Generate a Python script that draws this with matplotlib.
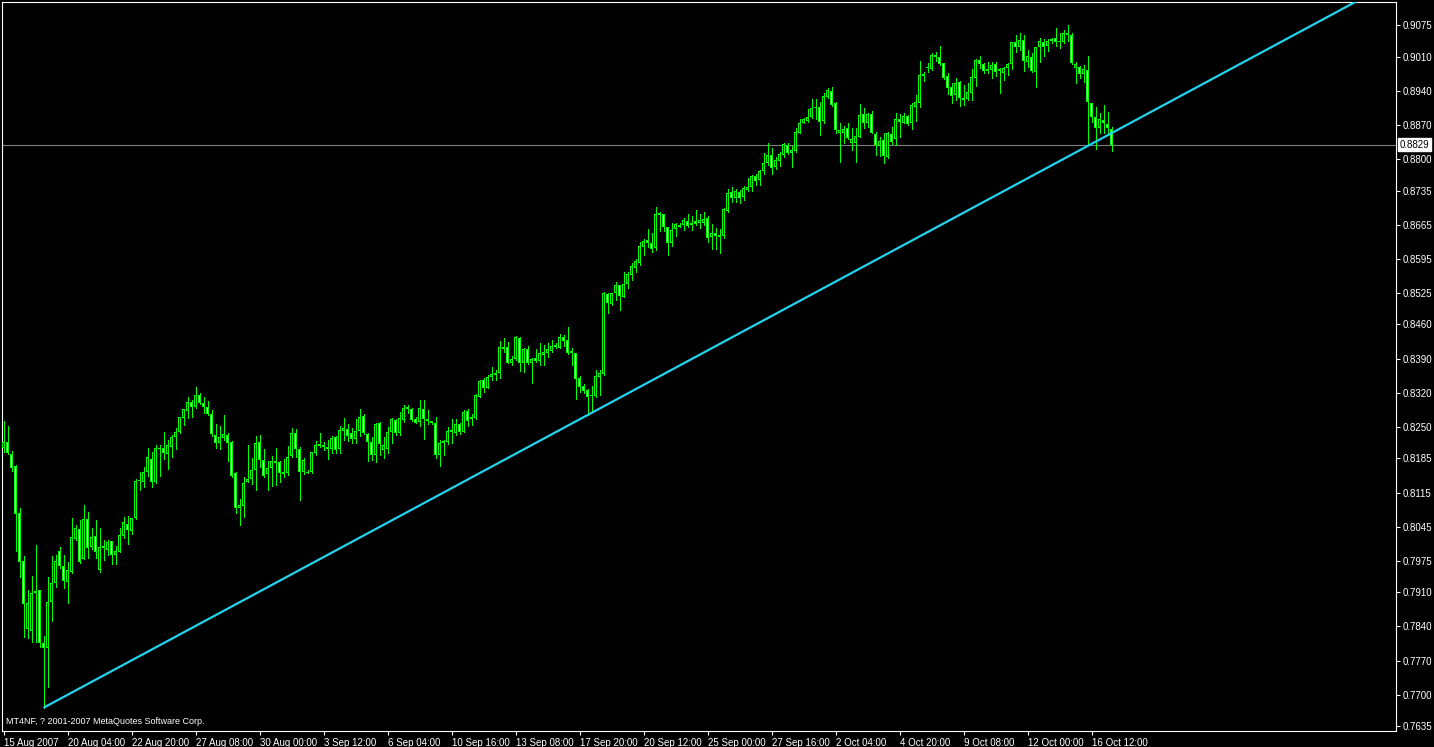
import numpy as np
import matplotlib
matplotlib.use("Agg")
import matplotlib.pyplot as plt

# H4 candles, 15 Aug 2007 - 16 Oct 2007
opens = [
    0.8206, 0.8219, 0.8194, 0.8170, 0.8073, 0.7974, 0.7835, 0.7831, 0.7909, 0.7915,
    0.7806, 0.7796, 0.7890, 0.7929, 0.7995, 0.7964, 0.7931, 0.7952, 0.8020, 0.8040,
    0.7979, 0.8061, 0.8003, 0.8026, 0.7956, 0.8001, 0.7997, 0.8015, 0.7987, 0.7993,
    0.8026, 0.8050, 0.8036, 0.8063, 0.8139, 0.8137, 0.8157, 0.8184, 0.8137, 0.8206,
    0.8206, 0.8194, 0.8208, 0.8229, 0.8239, 0.8268, 0.8282, 0.8301, 0.8291, 0.8315,
    0.8299, 0.8291, 0.8276, 0.8233, 0.8217, 0.8227, 0.8233, 0.8219, 0.8155, 0.8083,
    0.8087, 0.8137, 0.8143, 0.8161, 0.8219, 0.8182, 0.8153, 0.8165, 0.8180, 0.8178,
    0.8153, 0.8155, 0.8190, 0.8237, 0.8204, 0.8157, 0.8157, 0.8157, 0.8196, 0.8211,
    0.8213, 0.8208, 0.8204, 0.8229, 0.8204, 0.8241, 0.8245, 0.8237, 0.8225, 0.8241,
    0.8272, 0.8235, 0.8219, 0.8192, 0.8258, 0.8202, 0.8204, 0.8239, 0.8264, 0.8237,
    0.8264, 0.8291, 0.8286, 0.8266, 0.8260, 0.8286, 0.8266, 0.8262, 0.8258, 0.8192,
    0.8217, 0.8219, 0.8239, 0.8237, 0.8256, 0.8239, 0.8282, 0.8266, 0.8268, 0.8311,
    0.8346, 0.8330, 0.8352, 0.8360, 0.8360, 0.8414, 0.8414, 0.8381, 0.8389, 0.8432,
    0.8381, 0.8410, 0.8381, 0.8391, 0.8385, 0.8397, 0.8401, 0.8406, 0.8414, 0.8412,
    0.8434, 0.8428, 0.8406, 0.8401, 0.8350, 0.8334, 0.8326, 0.8315, 0.8313, 0.8352,
    0.8358, 0.8523, 0.8502, 0.8525, 0.8541, 0.8516, 0.8543, 0.8562, 0.8576, 0.8586,
    0.8619, 0.8634, 0.8627, 0.8617, 0.8685, 0.8687, 0.8660, 0.8627, 0.8656, 0.8664,
    0.8664, 0.8672, 0.8664, 0.8672, 0.8668, 0.8668, 0.8679, 0.8640, 0.8648, 0.8640,
    0.8642, 0.8693, 0.8732, 0.8720, 0.8732, 0.8722, 0.8736, 0.8742, 0.8765, 0.8757,
    0.8775, 0.8792, 0.8808, 0.8783, 0.8796, 0.8808, 0.8829, 0.8812, 0.8816, 0.8853,
    0.8874, 0.8878, 0.8886, 0.8905, 0.8907, 0.8878, 0.8927, 0.8940, 0.8915, 0.8853,
    0.8853, 0.8864, 0.8833, 0.8833, 0.8845, 0.8892, 0.8874, 0.8892, 0.8851, 0.8827,
    0.8839, 0.8804, 0.8851, 0.8841, 0.8882, 0.8874, 0.8888, 0.8874, 0.8907, 0.8915,
    0.8970, 0.8987, 0.8985, 0.9013, 0.9009, 0.8997, 0.8970, 0.8948, 0.8931, 0.8958,
    0.8925, 0.8923, 0.8935, 0.8966, 0.9003, 0.8995, 0.8980, 0.8983, 0.8995, 0.8980,
    0.8976, 0.8987, 0.8995, 0.9040, 0.9030, 0.9044, 0.8999, 0.9009, 0.8978, 0.9030,
    0.9040, 0.9032, 0.9042, 0.9048, 0.9040, 0.9040, 0.9059, 0.9054, 0.8987, 0.8989,
    0.8974, 0.8983, 0.8915, 0.8886, 0.8864, 0.8880, 0.8872, 0.8861,
]
highs = [
    0.8262, 0.8252, 0.8200, 0.8172, 0.8083, 0.7985, 0.7915, 0.7944, 0.8007, 0.7915,
    0.7820, 0.7942, 0.7985, 0.7987, 0.8003, 0.7987, 0.7972, 0.8063, 0.8048, 0.8059,
    0.8089, 0.8075, 0.8042, 0.8059, 0.8042, 0.8018, 0.8018, 0.8015, 0.8005, 0.8042,
    0.8065, 0.8067, 0.8063, 0.8143, 0.8157, 0.8167, 0.8206, 0.8198, 0.8213, 0.8213,
    0.8239, 0.8223, 0.8233, 0.8248, 0.8270, 0.8286, 0.8311, 0.8305, 0.8332, 0.8319,
    0.8311, 0.8303, 0.8284, 0.8256, 0.8252, 0.8274, 0.8237, 0.8221, 0.8157, 0.8102,
    0.8147, 0.8213, 0.8186, 0.8231, 0.8233, 0.8204, 0.8180, 0.8190, 0.8206, 0.8180,
    0.8184, 0.8210, 0.8248, 0.8245, 0.8208, 0.8186, 0.8161, 0.8198, 0.8221, 0.8237,
    0.8219, 0.8223, 0.8231, 0.8231, 0.8252, 0.8268, 0.8256, 0.8248, 0.8266, 0.8286,
    0.8276, 0.8237, 0.8229, 0.8258, 0.8260, 0.8229, 0.8250, 0.8268, 0.8266, 0.8280,
    0.8295, 0.8295, 0.8289, 0.8270, 0.8305, 0.8305, 0.8284, 0.8262, 0.8270, 0.8223,
    0.8223, 0.8250, 0.8266, 0.8266, 0.8258, 0.8284, 0.8286, 0.8276, 0.8317, 0.8346,
    0.8350, 0.8356, 0.8373, 0.8367, 0.8426, 0.8432, 0.8424, 0.8395, 0.8436, 0.8434,
    0.8412, 0.8416, 0.8391, 0.8410, 0.8422, 0.8418, 0.8422, 0.8428, 0.8422, 0.8440,
    0.8438, 0.8455, 0.8412, 0.8401, 0.8354, 0.8338, 0.8328, 0.8334, 0.8367, 0.8367,
    0.8527, 0.8525, 0.8525, 0.8547, 0.8541, 0.8568, 0.8568, 0.8586, 0.8594, 0.8629,
    0.8636, 0.8656, 0.8648, 0.8701, 0.8691, 0.8687, 0.8660, 0.8668, 0.8668, 0.8668,
    0.8679, 0.8687, 0.8683, 0.8695, 0.8687, 0.8691, 0.8683, 0.8666, 0.8658, 0.8656,
    0.8699, 0.8738, 0.8742, 0.8738, 0.8736, 0.8744, 0.8761, 0.8767, 0.8769, 0.8777,
    0.8812, 0.8833, 0.8822, 0.8804, 0.8814, 0.8833, 0.8833, 0.8826, 0.8864, 0.8882,
    0.8884, 0.8902, 0.8923, 0.8923, 0.8917, 0.8935, 0.8946, 0.8948, 0.8917, 0.8874,
    0.8868, 0.8874, 0.8864, 0.8864, 0.8913, 0.8905, 0.8894, 0.8898, 0.8855, 0.8845,
    0.8853, 0.8855, 0.8866, 0.8894, 0.8892, 0.8894, 0.8890, 0.8915, 0.8931, 0.9001,
    0.8978, 0.8997, 0.9017, 0.9019, 0.9032, 0.8997, 0.8976, 0.8956, 0.8966, 0.8960,
    0.8952, 0.8956, 0.8985, 0.9005, 0.9011, 0.8997, 0.8999, 0.8999, 0.8999, 0.8987,
    0.8989, 0.8997, 0.9040, 0.9054, 0.9059, 0.9054, 0.9024, 0.9017, 0.9030, 0.9048,
    0.9046, 0.9046, 0.9048, 0.9069, 0.9059, 0.9065, 0.9075, 0.9059, 0.8999, 0.8991,
    0.8993, 0.9011, 0.8915, 0.8907, 0.8894, 0.8911, 0.8896, 0.8866,
]
lows = [
    0.8198, 0.8194, 0.8159, 0.7995, 0.7942, 0.7818, 0.7816, 0.7808, 0.7808, 0.7798,
    0.7673, 0.7716, 0.7851, 0.7921, 0.7960, 0.7919, 0.7888, 0.7950, 0.8018, 0.7970,
    0.7979, 0.7981, 0.7999, 0.7981, 0.7952, 0.7976, 0.7987, 0.7968, 0.7968, 0.7993,
    0.8022, 0.8009, 0.8030, 0.8061, 0.8120, 0.8126, 0.8149, 0.8126, 0.8135, 0.8149,
    0.8184, 0.8163, 0.8188, 0.8204, 0.8237, 0.8254, 0.8268, 0.8270, 0.8289, 0.8297,
    0.8278, 0.8274, 0.8231, 0.8206, 0.8204, 0.8223, 0.8180, 0.8147, 0.8073, 0.8048,
    0.8065, 0.8137, 0.8132, 0.8120, 0.8167, 0.8147, 0.8120, 0.8128, 0.8130, 0.8137,
    0.8147, 0.8151, 0.8188, 0.8188, 0.8100, 0.8153, 0.8155, 0.8155, 0.8192, 0.8208,
    0.8202, 0.8184, 0.8196, 0.8196, 0.8196, 0.8223, 0.8221, 0.8217, 0.8217, 0.8231,
    0.8235, 0.8180, 0.8182, 0.8178, 0.8192, 0.8186, 0.8196, 0.8217, 0.8233, 0.8233,
    0.8260, 0.8278, 0.8262, 0.8258, 0.8252, 0.8225, 0.8256, 0.8256, 0.8186, 0.8170,
    0.8192, 0.8215, 0.8217, 0.8233, 0.8235, 0.8239, 0.8252, 0.8254, 0.8266, 0.8311,
    0.8321, 0.8330, 0.8346, 0.8346, 0.8350, 0.8404, 0.8380, 0.8377, 0.8387, 0.8365,
    0.8362, 0.8379, 0.8340, 0.8383, 0.8377, 0.8377, 0.8393, 0.8404, 0.8412, 0.8412,
    0.8416, 0.8400, 0.8377, 0.8307, 0.8321, 0.8319, 0.8274, 0.8280, 0.8311, 0.8315,
    0.8356, 0.8484, 0.8500, 0.8510, 0.8490, 0.8516, 0.8535, 0.8551, 0.8568, 0.8582,
    0.8603, 0.8619, 0.8609, 0.8613, 0.8652, 0.8652, 0.8603, 0.8621, 0.8642, 0.8660,
    0.8654, 0.8660, 0.8654, 0.8664, 0.8658, 0.8664, 0.8629, 0.8615, 0.8615, 0.8607,
    0.8638, 0.8691, 0.8712, 0.8712, 0.8710, 0.8716, 0.8734, 0.8734, 0.8746, 0.8746,
    0.8769, 0.8788, 0.8769, 0.8779, 0.8785, 0.8804, 0.8810, 0.8783, 0.8814, 0.8853,
    0.8873, 0.8876, 0.8884, 0.8882, 0.8849, 0.8874, 0.8925, 0.8909, 0.8853, 0.8794,
    0.8833, 0.8841, 0.8818, 0.8794, 0.8845, 0.8864, 0.8866, 0.8853, 0.8808, 0.8806,
    0.8792, 0.8802, 0.8831, 0.8829, 0.8845, 0.8874, 0.8870, 0.8861, 0.8878, 0.8907,
    0.8960, 0.8978, 0.8983, 0.9001, 0.8993, 0.8964, 0.8933, 0.8915, 0.8921, 0.8909,
    0.8911, 0.8921, 0.8921, 0.8950, 0.8987, 0.8976, 0.8976, 0.8966, 0.8970, 0.8935,
    0.8962, 0.8972, 0.8985, 0.9020, 0.9024, 0.8980, 0.8989, 0.8978, 0.8948, 0.8999,
    0.9011, 0.9022, 0.9038, 0.9032, 0.9028, 0.9038, 0.9042, 0.8995, 0.8956, 0.8966,
    0.8958, 0.8829, 0.8876, 0.8820, 0.8853, 0.8853, 0.8853, 0.8816,
]
closes = [
    0.8219, 0.8196, 0.8165, 0.8071, 0.7972, 0.7886, 0.7888, 0.7909, 0.7913, 0.7806,
    0.7796, 0.7890, 0.7929, 0.7974, 0.7964, 0.7933, 0.7956, 0.8024, 0.8042, 0.7972,
    0.8061, 0.8001, 0.8024, 0.7993, 0.8003, 0.8005, 0.8013, 0.7987, 0.7995, 0.8028,
    0.8054, 0.8038, 0.8063, 0.8139, 0.8141, 0.8157, 0.8188, 0.8137, 0.8206, 0.8204,
    0.8196, 0.8213, 0.8229, 0.8239, 0.8270, 0.8286, 0.8301, 0.8291, 0.8315, 0.8299,
    0.8291, 0.8276, 0.8235, 0.8217, 0.8229, 0.8235, 0.8217, 0.8149, 0.8083, 0.8089,
    0.8135, 0.8143, 0.8161, 0.8217, 0.8182, 0.8149, 0.8165, 0.8180, 0.8176, 0.8155,
    0.8157, 0.8188, 0.8237, 0.8204, 0.8157, 0.8182, 0.8156, 0.8198, 0.8213, 0.8215,
    0.8208, 0.8204, 0.8227, 0.8202, 0.8243, 0.8248, 0.8231, 0.8225, 0.8241, 0.8270,
    0.8237, 0.8219, 0.8192, 0.8256, 0.8215, 0.8213, 0.8239, 0.8266, 0.8237, 0.8268,
    0.8289, 0.8286, 0.8264, 0.8258, 0.8289, 0.8266, 0.8262, 0.8258, 0.8192, 0.8217,
    0.8221, 0.8241, 0.8243, 0.8256, 0.8239, 0.8280, 0.8262, 0.8270, 0.8315, 0.8344,
    0.8330, 0.8352, 0.8358, 0.8356, 0.8414, 0.8410, 0.8381, 0.8389, 0.8434, 0.8381,
    0.8410, 0.8381, 0.8389, 0.8385, 0.8401, 0.8404, 0.8410, 0.8416, 0.8418, 0.8434,
    0.8426, 0.8401, 0.8401, 0.8348, 0.8332, 0.8323, 0.8311, 0.8313, 0.8354, 0.8360,
    0.8525, 0.8504, 0.8525, 0.8541, 0.8518, 0.8543, 0.8564, 0.8580, 0.8590, 0.8621,
    0.8631, 0.8627, 0.8615, 0.8687, 0.8689, 0.8660, 0.8627, 0.8654, 0.8666, 0.8660,
    0.8675, 0.8662, 0.8668, 0.8666, 0.8675, 0.8677, 0.8638, 0.8648, 0.8642, 0.8644,
    0.8697, 0.8730, 0.8720, 0.8734, 0.8720, 0.8740, 0.8742, 0.8765, 0.8755, 0.8775,
    0.8792, 0.8808, 0.8781, 0.8798, 0.8810, 0.8831, 0.8812, 0.8818, 0.8855, 0.8874,
    0.8882, 0.8886, 0.8905, 0.8907, 0.8876, 0.8929, 0.8942, 0.8911, 0.8859, 0.8859,
    0.8861, 0.8843, 0.8841, 0.8847, 0.8890, 0.8874, 0.8892, 0.8853, 0.8829, 0.8837,
    0.8806, 0.8853, 0.8835, 0.8882, 0.8876, 0.8888, 0.8872, 0.8911, 0.8917, 0.8972,
    0.8974, 0.8989, 0.9013, 0.9009, 0.8995, 0.8966, 0.8946, 0.8929, 0.8956, 0.8925,
    0.8921, 0.8937, 0.8968, 0.9003, 0.8995, 0.8980, 0.8985, 0.8993, 0.8978, 0.8985,
    0.8987, 0.8995, 0.9040, 0.9030, 0.9044, 0.9001, 0.9011, 0.8980, 0.9030, 0.9042,
    0.9030, 0.9042, 0.9046, 0.9040, 0.9042, 0.9059, 0.9054, 0.8997, 0.8995, 0.8974,
    0.8985, 0.8917, 0.8886, 0.8864, 0.8882, 0.8874, 0.8864, 0.8829,
]

date_labels = ["15 Aug 2007", "20 Aug 04:00", "22 Aug 20:00", "27 Aug 08:00",
               "30 Aug 00:00", "3 Sep 12:00", "6 Sep 04:00", "10 Sep 16:00",
               "13 Sep 08:00", "17 Sep 20:00", "20 Sep 12:00", "25 Sep 00:00",
               "27 Sep 16:00", "2 Oct 04:00", "4 Oct 20:00", "9 Oct 08:00",
               "12 Oct 00:00", "16 Oct 12:00"]
label_every = 16  # one date label every 16 bars

price_labels = ["0.9075", "0.9010", "0.8940", "0.8870", "0.8800", "0.8735",
                "0.8665", "0.8595", "0.8525", "0.8460", "0.8390", "0.8320",
                "0.8250", "0.8185", "0.8115", "0.8045", "0.7975", "0.7910",
                "0.7840", "0.7770", "0.7700", "0.7635"]

bid = 0.8829
trend_bars = [10, 146]
trend_prices = [0.7673, 0.8274]

assert len(opens) == len(highs) == len(lows) == len(closes)

GREEN = "#00ff00"
W, H = 1434, 747
fig = plt.figure(figsize=(W / 100, H / 100), dpi=100, facecolor="black")
# chart frame: x 2..1396 px, y 2..731 px; 4 px per bar, bar centres on pixel centres
ax = fig.add_axes([2 / W, 1 - 731 / H, 1394 / W, 729 / H], facecolor="black")
ymin, ymax = 0.76253, 0.91222
ax.set_xlim(-0.375, -0.375 + 1394 / 4)
ax.set_ylim(ymin, ymax)
ppx = (ymax - ymin) / 729  # price per pixel

x = np.arange(len(closes))
o = np.array(opens)
h = np.array(highs)
l = np.array(lows)
c = np.array(closes)
bull = c >= o

ax.axhline(bid, color="#808080", lw=0.8, zorder=1)

ax.vlines(x, l, h, color=GREEN, lw=0.72, antialiased=False, zorder=2)
bot = np.minimum(o, c)
top = np.maximum(o, c)
hgt = np.maximum(top - bot, ppx)
ax.bar(x, hgt, bottom=bot, width=0.75, color=GREEN, linewidth=0,
       antialiased=False, zorder=3)
# 1px interior: black for up candles, white for down candles
inner = hgt > 2.5 * ppx
fill = np.where(bull, "black", "white")
ax.bar(x[inner], hgt[inner] - 2 * ppx, bottom=bot[inner] + ppx, width=0.25,
       color=list(fill[inner]), linewidth=0, antialiased=False, zorder=4)

# trend line drawn as a ray to the right
slope = (trend_prices[1] - trend_prices[0]) / (trend_bars[1] - trend_bars[0])
x_end = 360
ax.plot([trend_bars[0], x_end],
        [trend_prices[0], trend_prices[0] + slope * (x_end - trend_bars[0])],
        color="#22d3ee", lw=1.6, zorder=5, solid_capstyle="butt")

for s in ax.spines.values():
    s.set_color("white")
    s.set_linewidth(0.8)

ax.yaxis.tick_right()
ax.set_yticks([float(v) for v in price_labels])
ax.set_yticklabels(price_labels)
ax.tick_params(axis="y", colors="white", length=3, width=0.8, pad=2,
               labelsize=7, labelcolor="white")
for t in ax.get_yticklabels():
    t.set_family("Liberation Sans")

xt = np.arange(len(date_labels)) * label_every
ax.set_xticks(xt)
ax.set_xticklabels(date_labels)
ax.tick_params(axis="x", colors="white", length=3, width=0.8, pad=2,
               labelsize=7, labelcolor="white")
for t in ax.get_xticklabels():
    t.set_ha("left")
    t.set_family("Liberation Sans")

ax.text(1.0025, bid, f"{bid:.4f}", transform=ax.get_yaxis_transform(),
        ha="left", va="center", fontsize=7, color="black", family="Liberation Sans",
        bbox=dict(boxstyle="square,pad=0.15", fc="white", ec="white"),
        clip_on=False, zorder=10)

fig.text(6 / W, 1 - 726 / H, "MT4NF, ? 2001-2007 MetaQuotes Software Corp.",
         color="white", fontsize=6.5, family="Liberation Sans", ha="left", va="bottom")

fig.savefig("out.png", dpi=100, facecolor="black")
